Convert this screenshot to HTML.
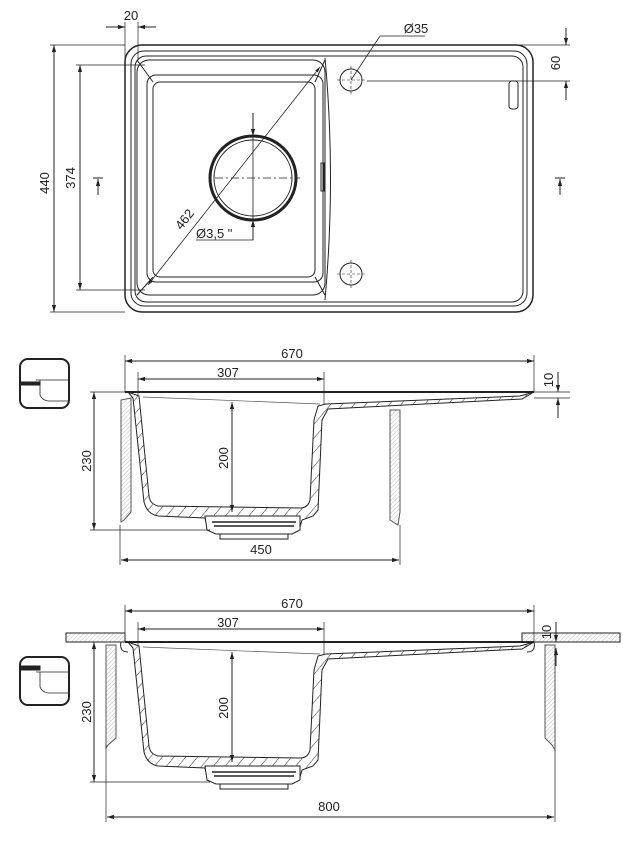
<!DOCTYPE html>
<html><head><meta charset="utf-8"><style>
html,body{margin:0;padding:0;background:#fff}
svg{display:block}
text{font-family:"Liberation Sans Narrow","Liberation Sans",sans-serif;font-stretch:condensed;font-size:13px;fill:#222}
</style></head><body>
<svg width="623" height="841" viewBox="0 0 623 841" xmlns="http://www.w3.org/2000/svg">
<defs>
<marker id="a" viewBox="0 0 10 10" refX="10" refY="5" markerWidth="7" markerHeight="7" orient="auto-start-reverse"><path d="M0,2 L10,5 L0,8 z" fill="#222"/></marker>
<pattern id="h" width="9" height="9" patternUnits="userSpaceOnUse" patternTransform="rotate(40)"><line x1="0" y1="0" x2="0" y2="9" stroke="#333" stroke-width="1"/></pattern>
<pattern id="h2" width="3" height="3" patternUnits="userSpaceOnUse" patternTransform="rotate(45)"><line x1="0" y1="0" x2="0" y2="3" stroke="#aaa" stroke-width="0.8"/></pattern>
</defs>
<g fill="none" stroke="#222" stroke-width="1">
<rect x="125" y="45" width="408" height="267" rx="17" stroke-width="1.5"/>
<rect x="131" y="51" width="396" height="255" rx="13"/>
<rect x="135" y="56" width="388" height="246" rx="11"/>
<rect x="137" y="60" width="188" height="235" rx="12"/>
<rect x="147" y="75" width="176" height="207" rx="9"/>
<rect x="153" y="82" width="162" height="195" rx="7"/>
<path d="M137,60 L153,82 M325,60 L315,82 M137,295 L153,277 M325,295 L315,277"/>
<path d="M325,58 Q336,178 325,300"/>
<rect x="321" y="163" width="3" height="28"/>
<rect x="509" y="81" width="9" height="28" rx="3"/>
<ellipse cx="253" cy="178" rx="43" ry="42" stroke-width="3"/>
<ellipse cx="253" cy="178" rx="39" ry="38"/>
<circle cx="351" cy="80" r="11"/>
<circle cx="351" cy="274" r="11"/>
<path d="M351,66 V94 M337,80 H365 M351,260 V288 M337,274 H365" stroke-width="0.6" stroke-dasharray="3,2"/>
<path d="M215,178 H300" stroke-dasharray="8,3,2,3" stroke-width="0.8"/>
<line x1="54" y1="45" x2="54" y2="312" marker-start="url(#a)" marker-end="url(#a)"/>
<path d="M50,45 H125 M50,312 H125 M76,65 H145 M76,290 H145" stroke-width="0.7"/>
<line x1="80" y1="65" x2="80" y2="290" marker-start="url(#a)" marker-end="url(#a)"/>
<path d="M125,22 V60 M138,22 V60" stroke-width="0.7"/>
<line x1="106" y1="27" x2="125" y2="27" marker-end="url(#a)"/>
<line x1="156" y1="27" x2="138" y2="27" marker-end="url(#a)"/>
<path d="M425,36 H380 L351,80" stroke-width="0.8"/>
<path d="M400,45 H570 M367,81 H570" stroke-width="0.7"/>
<line x1="566" y1="28" x2="566" y2="45" marker-end="url(#a)"/>
<line x1="566" y1="100" x2="566" y2="81" marker-end="url(#a)"/>
<line x1="148" y1="285" x2="320" y2="67" marker-start="url(#a)" marker-end="url(#a)" stroke-width="0.8"/>
<path d="M196,240 H253 V113" stroke-width="0.8"/>
<line x1="253" y1="113" x2="253" y2="136" marker-end="url(#a)"/>
<line x1="253" y1="240" x2="253" y2="220" marker-end="url(#a)"/>
<path d="M93,178 H103 M555,178 H565" stroke-width="1"/>
<line x1="98" y1="195" x2="98" y2="179" marker-end="url(#a)"/>
<line x1="560" y1="195" x2="560" y2="179" marker-end="url(#a)"/>
</g>
<g>
<text x="131" y="20" text-anchor="middle">20</text>
<text x="416" y="33" text-anchor="middle">Ø35</text>
<text transform="translate(49,183) rotate(-90)" text-anchor="middle">440</text>
<text transform="translate(75,178) rotate(-90)" text-anchor="middle">374</text>
<text transform="translate(560,63) rotate(-90)" text-anchor="middle">60</text>
<text transform="translate(188,222) rotate(-52)" text-anchor="middle">462</text>
<text x="196" y="238">Ø3,5 "</text>
</g>

<g id="sec">
<path d="M125,392 H534" stroke="#222" stroke-width="2" fill="none"/>
<path d="M128,392 L133,398 L144,502 Q147,514 158,516 L205,518 L207,527 L300,527 L302,520 L313,516 L318,510 L322,420 L328,409 L522,399 L534,392 L520,396 L326,404 L318,406 L314,420 L310,500 Q308,508 300,508 L158,506 Q150,504 149,496 L139,396 Z" fill="url(#h)" stroke="#222" stroke-width="1"/>
<path d="M143,397 L320,404" stroke="#555" fill="none" stroke-width="0.7"/>
<path d="M205,516 H300 V530 L292,534 H216 L207,530 Z" fill="#fff" stroke="#222"/>
<path d="M212,522 H296 M214,526 H294" stroke="#222" stroke-width="1.5"/>
<path d="M220,534 V539 H288 V534" fill="none" stroke="#222"/>
<line x1="232" y1="402" x2="232" y2="512" stroke="#222" marker-start="url(#a)" marker-end="url(#a)"/>
<line x1="138" y1="379" x2="324" y2="379" stroke="#222" marker-start="url(#a)" marker-end="url(#a)"/>
<path d="M138,372 V395 M324,372 V404" stroke="#222" stroke-width="0.7"/>
<line x1="125" y1="361" x2="534" y2="361" stroke="#222" marker-start="url(#a)" marker-end="url(#a)"/>
<path d="M125,355 V392 M534,355 V392" stroke="#222" stroke-width="0.7"/>
<text x="228" y="377" text-anchor="middle">307</text>
<text x="292" y="358" text-anchor="middle">670</text>
<text transform="translate(228,458) rotate(-90)" text-anchor="middle">200</text>
</g>

<g stroke="#222" fill="none">
<path d="M121,400 L131,398 L131,512 L124,520 L121,522 Z" fill="url(#h2)" stroke="#555"/>
<path d="M390,410 L400,410 L400,512 L398,525 L390,520 Z" fill="url(#h2)" stroke="#555"/>
<path d="M90,392 H125 M90,530 H210 M120,525 V565 M400,525 V565 M534,392 H570 M534,398 H570" stroke-width="0.7"/>
<line x1="94" y1="392" x2="94" y2="530" marker-start="url(#a)" marker-end="url(#a)"/>
<line x1="121" y1="560" x2="399" y2="560" marker-start="url(#a)" marker-end="url(#a)"/>
<line x1="558" y1="372" x2="558" y2="392" marker-end="url(#a)"/>
<line x1="558" y1="418" x2="558" y2="398" marker-end="url(#a)"/>
<rect x="20" y="359" width="49" height="49" rx="8" stroke-width="2"/>
<path d="M20,384 H40 M36,380 H69 M40,380 V395 Q42,400 48,401 H69" stroke-width="0.8"/>
<rect x="20" y="382" width="20" height="3" fill="#222"/>
</g>
<text transform="translate(91,461) rotate(-90)" text-anchor="middle">230</text>
<text x="261" y="554" text-anchor="middle">450</text>
<text transform="translate(553,380) rotate(-90)" text-anchor="middle">10</text>

<use href="#sec" transform="translate(0,250)"/>
<g stroke="#222" fill="none">
<rect x="66" y="633" width="59" height="9" fill="url(#h2)"/>
<rect x="522" y="633" width="98" height="9" fill="url(#h2)"/>
<path d="M121,642 Q119,652 128,652 M534,642 Q536,652 527,652"/>
<path d="M106,645 L116,645 L116,738 L108,745 L106,748 Z" fill="url(#h2)" stroke="#555"/>
<path d="M545,645 L555,645 L555,750 L552,745 L545,738 Z" fill="url(#h2)" stroke="#555"/>
<path d="M90,642 H125 M90,782 H210 M106,745 V822 M555,750 V822" stroke-width="0.7"/>
<line x1="94" y1="642" x2="94" y2="782" marker-start="url(#a)" marker-end="url(#a)"/>
<line x1="107" y1="817" x2="554" y2="817" marker-start="url(#a)" marker-end="url(#a)"/>
<line x1="556" y1="622" x2="556" y2="642" marker-end="url(#a)"/>
<line x1="556" y1="666" x2="556" y2="648" marker-end="url(#a)"/>
<rect x="20" y="657" width="49" height="48" rx="8" stroke-width="2"/>
<path d="M36,672 H69 M40,672 V687 Q42,692 48,693 H69" stroke-width="0.8"/>
<rect x="20" y="666" width="20" height="4" fill="#222"/>
</g>
<text transform="translate(91,712) rotate(-90)" text-anchor="middle">230</text>
<text x="329" y="811" text-anchor="middle">800</text>
<text transform="translate(551,632) rotate(-90)" text-anchor="middle">10</text>
</svg>
</body></html>
